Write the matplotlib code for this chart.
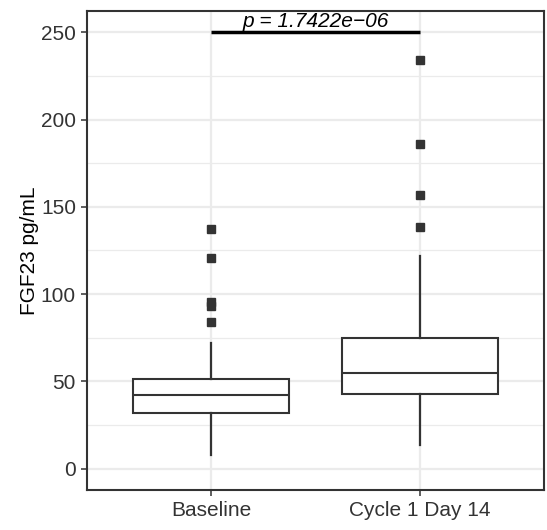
import matplotlib
matplotlib.use("Agg")
import matplotlib.pyplot as plt
from matplotlib.ticker import MultipleLocator

plt.rcParams['font.family'] = ['Liberation Sans', 'DejaVu Sans']

categories = ["Baseline", "Cycle 1 Day 14"]
whisker_low = [8.0, 13.4]
q1 = [31.7, 42.6]
median = [42.0, 55.0]
q3 = [51.2, 74.9]
whisker_high = [72.2, 121.7]
outliers = [[137.1, 120.4, 95.5, 93.0, 83.7],
            [234.1, 185.8, 156.7, 138.4]]
p_label = "p = 1.7422e\u221206"
p_bar_y = 250
y_ticks = [0, 50, 100, 150, 200, 250]
y_label = "FGF23 pg/mL"

fig = plt.figure(figsize=(5.47, 5.30), dpi=100)
ax = fig.add_axes([87/547, 40/530, (544-87)/547, (490-11)/530])

stats = []
for i, c in enumerate(categories):
    stats.append(dict(label=c, whislo=whisker_low[i], q1=q1[i], med=median[i],
                      q3=q3[i], whishi=whisker_high[i], fliers=outliers[i]))

positions = list(range(1, len(categories) + 1))
ink = '#333333'
ax.bxp(stats, positions=positions, widths=0.75, showcaps=False, patch_artist=True,
       boxprops=dict(facecolor='white', edgecolor=ink, linewidth=1.5),
       medianprops=dict(color=ink, linewidth=1.5),
       whiskerprops=dict(color=ink, linewidth=1.6),
       flierprops=dict(marker='s', markersize=6.0, markerfacecolor=ink,
                       markeredgecolor=ink, linestyle='none'),
       zorder=3)

# significance bar
ax.plot([positions[0], positions[1]], [p_bar_y, p_bar_y], color='black',
        linewidth=2.5, solid_capstyle='butt', zorder=4)
ax.annotate(p_label, xy=((positions[0] + positions[1]) / 2, p_bar_y),
            xytext=(0, 1.0), textcoords='offset points', ha='center', va='bottom',
            fontsize=15, style='italic', color='black', zorder=5)

ax.set_xlim(0.407, 2.593)
ax.set_ylim(-12.3, 262.2)
ax.set_xticks(positions)
ax.set_xticklabels(categories)
ax.yaxis.set_major_locator(MultipleLocator(50))
ax.yaxis.set_minor_locator(MultipleLocator(25))
ax.set_yticks(y_ticks)

ax.grid(which='major', color='#EBEBEB', linewidth=1.6, zorder=0)
ax.grid(which='minor', axis='y', color='#EBEBEB', linewidth=0.9, zorder=0)
ax.set_axisbelow(True)

for s in ax.spines.values():
    s.set_color(ink)
    s.set_linewidth(1.5)

ax.tick_params(axis='both', which='major', length=4, width=1.1, color=ink,
               labelsize=15, labelcolor='#333333', pad=4)
ax.tick_params(axis='y', which='minor', length=0)
ax.set_ylabel(y_label, fontsize=15, color='black', labelpad=1.5)

fig.savefig("out.png", dpi=100)
